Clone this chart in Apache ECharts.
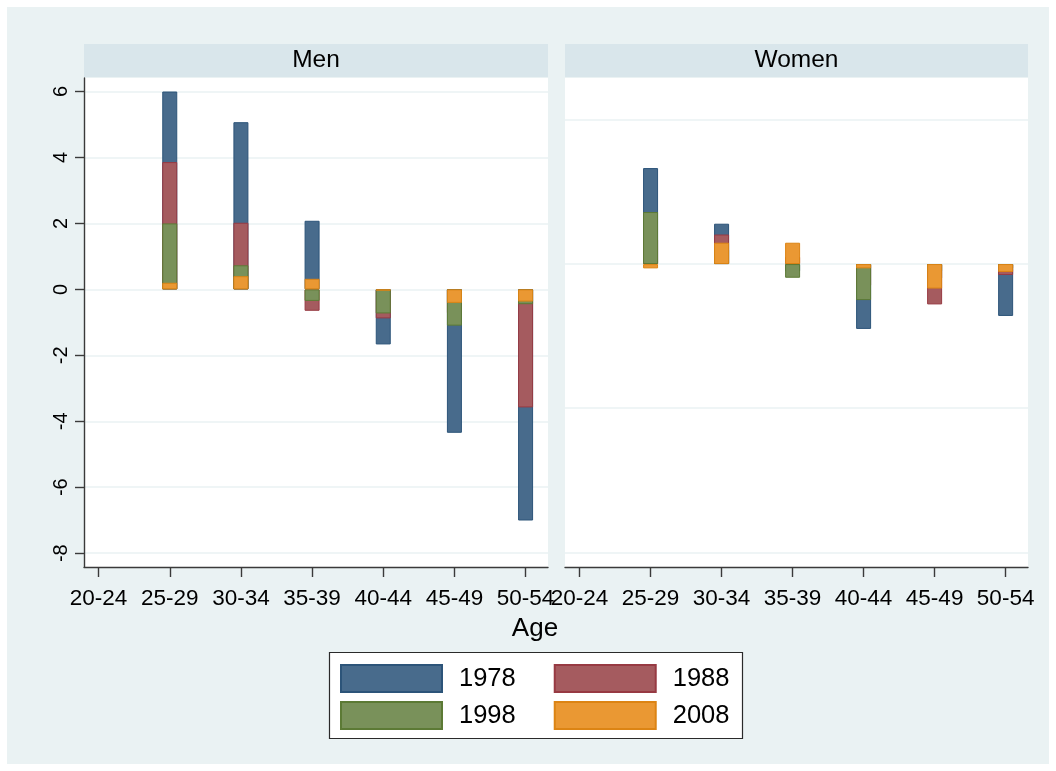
<!DOCTYPE html>
<html>
<head>
<meta charset="utf-8">
<script src="https://cdn.jsdelivr.net/npm/echarts@6/dist/echarts.min.js"></script>
<style>
html,body{margin:0;padding:0;background:#fff;}
#chart{width:1056px;height:771px;}
</style>
</head>
<body>
<div id="chart"></div>
<script>
var ageGroups = ['20-24','25-29','30-34','35-39','40-44','45-49','50-54'];
var years = ['1978','1988','1998','2008'];
var panelTitles = ['Men','Women'];
var menTickValues = [-8,-6,-4,-2,0,2,4,6];
var womenGridValues = [-2,-1,0,1];

var men1978 = [null, 6.00, 5.07, 2.08, -1.67, -4.35, -7.01];
var men1988 = [null, 3.86, 2.02, -0.65, -0.88, -0.72, -3.58];
var men1998 = [null, 2.00, 0.73, -0.35, -0.73, -1.10, -0.45];
var men2008 = [null, 0.20, 0.40, 0.32, -0.04, -0.41, -0.37];

var women1978 = [null, 0.666, 0.280, -0.050, -0.450, -0.100, -0.360];
var women1988 = [null, 0.170, 0.205, 0.050, -0.150, -0.280, -0.076];
var women1998 = [null, 0.361, 0.100, -0.095, -0.250, -0.050, -0.030];
var women2008 = [null, -0.030, 0.148, 0.148, -0.030, -0.170, -0.055];

var fills = ['#486b8c','#a55b5f','#79915a','#ea9833'];
var borders = ['#2c5479','#973a43','#5c7a35','#dc8414'];
var FONT = '"Liberation Sans", Arial, sans-serif';

function toPairs(arr){
  var out = [];
  arr.forEach(function(v,i){ if(v !== null) out.push([i+1, v]); });
  return out;
}

var menData = [men1978, men1988, men1998, men2008];
var womenData = [women1978, women1988, women1998, women2008];

var series = [];
[menData, womenData].forEach(function(panel, p){
  panel.forEach(function(arr, k){
    series.push({
      type:'bar', name: years[k], xAxisIndex:p, yAxisIndex:p,
      data: toPairs(arr), barWidth:15, barGap:'-100%',
      itemStyle:{color:fills[k], borderColor:borders[k], borderWidth:1},
      emphasis:{disabled:true}, animation:false
    });
  });
});

var GRID_TOP = 78, GRID_H = 489;
var grids = [
  {left:84, top:GRID_TOP, width:464, height:GRID_H, show:true, backgroundColor:'#ffffff', borderWidth:0},
  {left:565, top:GRID_TOP, width:463, height:GRID_H, show:true, backgroundColor:'#ffffff', borderWidth:0}
];

function xAxisFor(i){
  return {
    type:'value', gridIndex:i, min:0.795, max:7.315,
    axisLine:{show:true, onZero:false, lineStyle:{color:'#3a3a3a', width:1.4}},
    axisTick:{show:true, length:10, customValues:[1,2,3,4,5,6,7], lineStyle:{color:'#3a3a3a', width:1.4}},
    axisLabel:{customValues:[1,2,3,4,5,6,7], margin:20, fontSize:22.5, color:'#000', fontFamily:FONT,
      formatter:function(v){ return ageGroups[Math.round(v)-1]; }},
    splitLine:{show:false}
  };
}

var yAxes = [
  {type:'value', gridIndex:0, min:-8.42, max:6.41,
    axisLine:{show:true, onZero:false, lineStyle:{color:'#3a3a3a', width:1.4}},
    axisTick:{show:true, length:9, customValues:menTickValues, lineStyle:{color:'#3a3a3a', width:1.4}},
    axisLabel:{customValues:menTickValues, rotate:90, margin:13, fontSize:20, color:'#000', fontFamily:FONT},
    splitLine:{show:true, lineStyle:{color:'#eaf2f3', width:1.6}}
  },
  {type:'value', gridIndex:1, min:-2.102, max:1.291,
    axisLine:{show:false},
    axisTick:{show:false, customValues:womenGridValues},
    axisLabel:{show:false, customValues:womenGridValues},
    splitLine:{show:true, lineStyle:{color:'#eaf2f3', width:1.6}}
  }
];

var graphics = [
  {type:'rect', shape:{x:7, y:7, width:1042, height:757}, style:{fill:'#eaf2f3'}, z:-10, silent:true},
  {type:'rect', shape:{x:84, y:44, width:464, height:33}, style:{fill:'#d9e6eb'}, z:-5, silent:true},
  {type:'rect', shape:{x:565, y:44, width:463, height:33}, style:{fill:'#d9e6eb'}, z:-5, silent:true},
  {type:'text', x:316, y:60.5, style:{text:panelTitles[0], fill:'#000', font:'24.5px '+FONT, textAlign:'center', textVerticalAlign:'middle'}, silent:true},
  {type:'text', x:796.5, y:60.5, style:{text:panelTitles[1], fill:'#000', font:'24.5px '+FONT, textAlign:'center', textVerticalAlign:'middle'}, silent:true},
  {type:'text', x:535, y:629, style:{text:'Age', fill:'#000', font:'26px '+FONT, textAlign:'center', textVerticalAlign:'middle'}, silent:true},
  {type:'rect', shape:{x:329.5, y:652.5, width:413, height:86}, style:{fill:'#ffffff', stroke:'#2a2a2a', lineWidth:1.2}, z:-1, silent:true}
];

function legendRow(names, top){
  return {
    data:names, left:340, top:top, orient:'horizontal', padding:0,
    icon:'rect', itemWidth:101, itemHeight:27, itemGap:38,
    selectedMode:false,
    textStyle:{fontSize:25.5, color:'#000', fontFamily:FONT, padding:[0,0,0,12]}
  };
}

var chart = echarts.init(document.getElementById('chart'), null, {renderer:'canvas'});
chart.setOption({
  animation:false,
  backgroundColor:'#ffffff',
  graphic:graphics,
  grid:grids,
  xAxis:[xAxisFor(0), xAxisFor(1)],
  yAxis:yAxes,
  legend:[legendRow([years[0], years[1]], 664), legendRow([years[2], years[3]], 701)],
  series:series
});
</script>
</body>
</html>
